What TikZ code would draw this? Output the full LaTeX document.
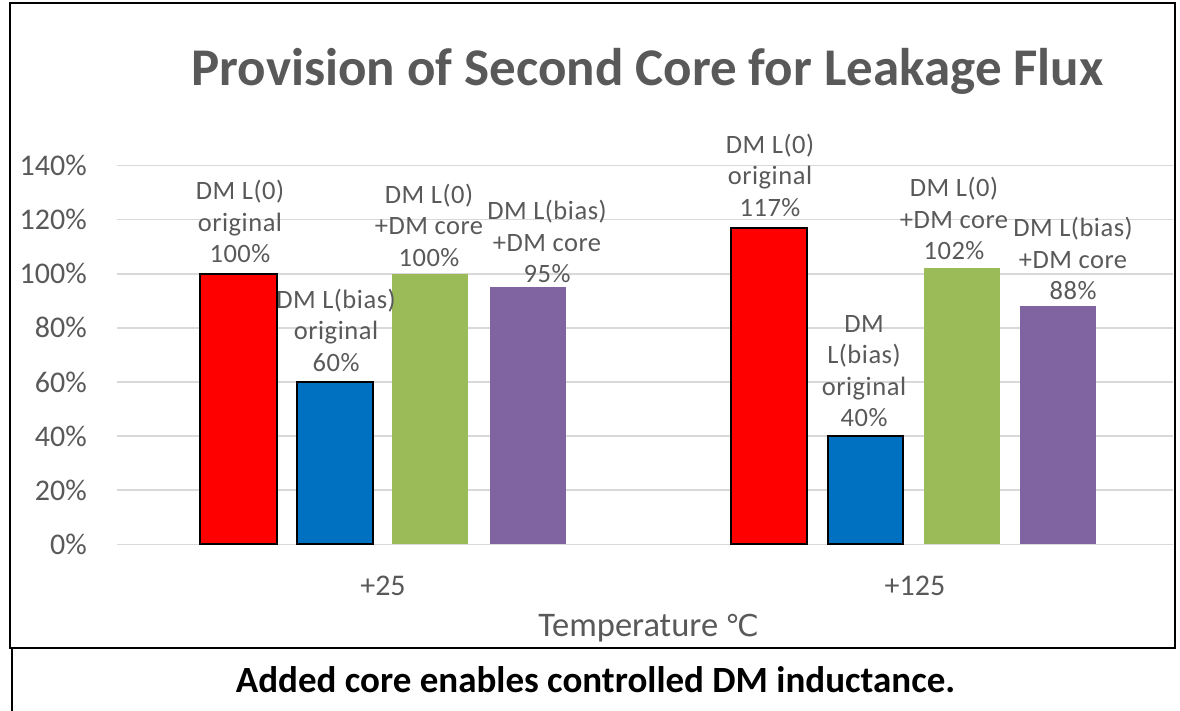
\documentclass[tikz,border=0pt]{standalone}
\usepackage{fontspec}
\setmainfont{Carlito}
\newfontfamily\lblfont[LetterSpace=2]{Carlito}
\newfontfamily\dvsfont{DejaVu Sans}
\definecolor{txtgray}{HTML}{595959}
\definecolor{gridgray}{HTML}{D9D9D9}
\definecolor{barred}{HTML}{FF0000}
\definecolor{barblue}{HTML}{0070C0}
\definecolor{bargreen}{HTML}{9BBB59}
\definecolor{barpurple}{HTML}{8064A2}
\begin{document}
\begin{tikzpicture}[x=1pt,y=-1pt,
  datalbl/.style={anchor=south,inner sep=0pt,align=center,text=txtgray,font=\lblfont\fontsize{26.5}{31.5}\selectfont},
  ticklbl/.style={anchor=base east,inner sep=0pt,text=txtgray,font=\fontsize{30}{36}\selectfont},
  catlbl/.style={anchor=base,inner sep=0pt,text=txtgray,font=\fontsize{30}{36}\selectfont},
  gridln/.style={draw=gridgray,line width=1.5pt},
  framed/.style={draw=black,line width=2.5pt},
  barout/.style={draw=black,line width=2pt},
]
\useasboundingbox (0,0) rectangle (1180,711);
% gridlines
\foreach \v in {0,20,...,140}{
  \draw[gridln] (117,{544.3-\v*2.705}) -- (1173,{544.3-\v*2.705});
  \node[ticklbl] (t\v) at (87,{544.3-\v*2.705+10}) {\v\%};
}
% bars group 1
\fill[barred] (200,544.3) rectangle (276.5,{544.3-100*2.705});
\draw[barout] (200,544.3) rectangle (276.5,{544.3-100*2.705});
\fill[barblue] (296.5,544.3) rectangle (373,{544.3-60*2.705});
\draw[barout] (296.5,544.3) rectangle (373,{544.3-60*2.705});
\fill[bargreen] (392,544.3) rectangle (468,{544.3-100*2.705});
\fill[barpurple] (490,544.3) rectangle (566,{544.3-95*2.705});
% bars group 2
\fill[barred] (731,544.3) rectangle (807,{544.3-117*2.705});
\draw[barout] (731,544.3) rectangle (807,{544.3-117*2.705});
\fill[barblue] (828,544.3) rectangle (903,{544.3-40*2.705});
\draw[barout] (828,544.3) rectangle (903,{544.3-40*2.705});
\fill[bargreen] (924,544.3) rectangle (1000,{544.3-102*2.705});
\fill[barpurple] (1020,544.3) rectangle (1096,{544.3-88*2.705});
% data labels
\node[datalbl] (l1) at (240,263) {DM L(0)\\original\\100\%};
\node[datalbl] (l2) at (336,371.7) {DM L(bias)\\original\\60\%};
\node[datalbl] (l3) at (429,266.7) {DM L(0)\\+DM core\\100\%};
\node[datalbl] (l4) at (547,283) {DM L(bias)\\+DM core\\95\%};
\node[datalbl] (l5) at (770,216.7) {DM L(0)\\original\\117\%};
\node[datalbl] (l6) at (864,427) {DM\\L(bias)\\original\\40\%};
\node[datalbl] (l7) at (954,260) {DM L(0)\\+DM core\\102\%};
\node[datalbl] (l8) at (1073,300) {DM L(bias)\\+DM core\\88\%};
% categories
\node[catlbl] (c1) at (383,595) {+25};
\node[catlbl] (c2) at (915,595) {+125};
\node[anchor=base,inner sep=0pt,text=txtgray,font=\fontsize{34.5}{40}\selectfont] (xt) at (649,636) {Temperature {\dvsfont\fontsize{30}{36}\selectfont ℃}};
% title
\node[anchor=base,inner sep=0pt,text=txtgray,font=\bfseries\fontsize{53}{64}\selectfont] (title) at (647.5,86) {Provision of Second Core for Leakage Flux};
% frames
\draw[framed] (10,3) rectangle (1175,648);
\draw[framed] (12,648) -- (12,713);
% caption
\node[anchor=base,inner sep=0pt,text=black,font=\bfseries\fontsize{37}{44}\selectfont] (cap) at (595.5,692) {Added core enables controlled DM inductance.};
\end{tikzpicture}
\end{document}
